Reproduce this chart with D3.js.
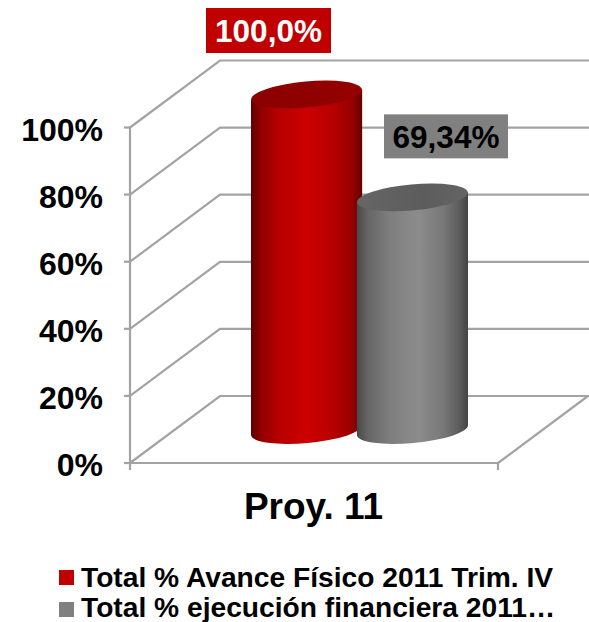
<!DOCTYPE html>
<html><head><meta charset="utf-8">
<script src="https://cdn.jsdelivr.net/npm/d3@7"></script>
<style>html,body{margin:0;padding:0;background:#fff}svg{display:block}text{font-family:"Liberation Sans",Arial,sans-serif;font-weight:bold}</style>
</head><body><div id="c"></div>
<script>
const category = "Proy. 11";
const seriesNames = ["Total % Avance Físico 2011 Trim. IV", "Total % ejecución financiera 2011…"];
const seriesValues = [100, 69.34];
const valueLabels = ["100,0%", "69,34%"];
const ticks = [0, 20, 40, 60, 80, 100];
const colors = ["#c00000", "#808080"];

const W = 589, H = 622;
const svg = d3.select("#c").append("svg").attr("width", W).attr("height", H);
const defs = svg.append("defs");

const y = d3.scaleLinear().domain([0, 100]).range([463, 127.5]);
const x = d3.scaleLinear().domain([0, 1]).range([130, 498]);
const depth = { dx: 90, dy: -67 };
const grid = "#a3a3a3";

const gridG = svg.append("g").attr("fill", "none").attr("stroke", grid).attr("stroke-width", 2.2);
ticks.forEach(t => {
  const p = d3.path();
  p.moveTo(x(0), y(t));
  p.lineTo(x(0) + depth.dx, y(t) + depth.dy);
  p.lineTo(W, y(t) + depth.dy);
  gridG.append("path").attr("d", p.toString());
  gridG.append("line").attr("x1", x(0) - 6).attr("x2", x(0)).attr("y1", y(t)).attr("y2", y(t));
  svg.append("text").attr("x", 103).attr("y", y(t) + 1.5).attr("dy", "0.36em").attr("text-anchor", "end")
    .attr("font-size", 32).attr("fill", "#000").text(t + "%");
});
gridG.append("line").attr("x1", x(0)).attr("x2", x(0)).attr("y1", y(100)).attr("y2", y(0) + 7);
gridG.append("line").attr("x1", x(0)).attr("x2", x(1)).attr("y1", y(0)).attr("y2", y(0));
gridG.append("line").attr("x1", x(1)).attr("x2", x(1)).attr("y1", y(0)).attr("y2", y(0) + 7);
gridG.append("line").attr("x1", x(1)).attr("x2", x(1) + depth.dx).attr("y1", y(0)).attr("y2", y(0) + depth.dy);

function grad(id, stops) {
  const g = defs.append("linearGradient").attr("id", id).attr("x1", 0).attr("x2", 1).attr("y1", 0).attr("y2", 0);
  stops.forEach(s => g.append("stop").attr("offset", s[0]).attr("stop-color", s[1]));
}
grad("side0", [[0, "#5e0000"], [0.08, "#8c0000"], [0.25, "#b80000"], [0.5, "#cc0000"], [0.72, "#b80000"], [0.9, "#9a0000"], [1, "#640000"]]);
grad("side1", [[0, "#484848"], [0.1, "#666"], [0.3, "#7e7e7e"], [0.55, "#8c8c8c"], [0.78, "#787878"], [0.92, "#5c5c5c"], [1, "#444"]]);
grad("top0", [[0, "#8a0000"], [1, "#960000"]]);
grad("top1", [[0, "#666"], [0.6, "#5c5c5c"], [1, "#646464"]]);

const bandX = d3.scaleBand().domain(d3.range(seriesValues.length)).range([251, 468]).paddingInner(-0.05);
const barW = bandX.bandwidth(), ry = 13, tilt = -5.2;
const baseOffset = 33;   // centre of the bar foot above the front floor edge

seriesValues.forEach((v, i) => {
  const cx = bandX(i) + barW / 2;
  const yb = y(0) - baseOffset, yt = y(v) - baseOffset;
  const rx = barW / 2, rad = tilt * Math.PI / 180;
  const lift = rx * Math.sin(-rad);
  const g = svg.append("g");
  const dPath = `M${cx - rx},${yt + lift} L${cx + rx},${yt - lift} L${cx + rx},${yb - lift} A${rx},${ry} ${tilt} 0 1 ${cx - rx},${yb + lift} Z`;
  g.append("path").attr("d", dPath).attr("fill", `url(#side${i})`);
  g.append("ellipse").attr("cx", cx).attr("cy", yt).attr("rx", rx).attr("ry", ry)
    .attr("transform", `rotate(${tilt} ${cx} ${yt})`).attr("fill", `url(#top${i})`);
});

// value labels
const labelBoxes = [{ x: 206, w: 125, h: 45, up: 119.5, fg: "#fff" }, { x: 384, w: 124, h: 44, up: 116, fg: "#000" }];
seriesValues.forEach((v, i) => {
  const b = labelBoxes[i];
  const top = y(v) - b.up;
  svg.append("rect").attr("x", b.x).attr("y", top).attr("width", b.w).attr("height", b.h).attr("fill", colors[i]);
  svg.append("text").attr("x", b.x + b.w / 2).attr("y", top + b.h / 2).attr("dy", "0.36em").attr("text-anchor", "middle")
    .attr("font-size", 31.5).attr("fill", b.fg).text(valueLabels[i]);
});

svg.append("text").attr("x", 313.5).attr("y", 519).attr("text-anchor", "middle").attr("font-size", 37).attr("fill", "#000").text(category);

const legendBaseline = d3.scalePoint().domain(d3.range(seriesNames.length)).range([587, 616.5]);
const swatchY = d3.scalePoint().domain(d3.range(seriesNames.length)).range([570, 602]);
seriesNames.forEach((n, i) => {
  svg.append("rect").attr("x", 59).attr("y", swatchY(i)).attr("width", 15).attr("height", 15).attr("fill", colors[i]);
  svg.append("text").attr("x", 81).attr("y", legendBaseline(i)).attr("font-size", 28.2).attr("fill", "#000").text(n);
});
</script></body></html>
